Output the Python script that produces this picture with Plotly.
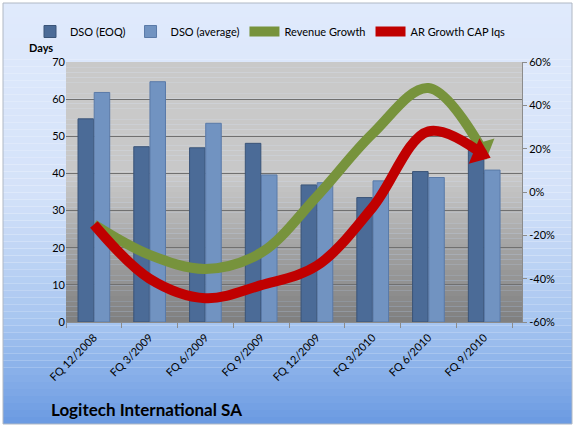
import math
import plotly.graph_objects as go

categories = ["FQ 12/2008", "FQ 3/2009", "FQ 6/2009", "FQ 9/2009",
              "FQ 12/2009", "FQ 3/2010", "FQ 6/2010", "FQ 9/2010"]
dso_eoq = [54.7, 47.2, 46.9, 48.1, 36.9, 33.5, 40.5, 48.1]
dso_avg = [61.8, 64.7, 53.5, 39.6, 37.5, 38.0, 38.9, 40.9]
revenue_growth = [-15, -29, -35.5, -28, -2, 27, 48, 18]   # percent
ar_growth = [-15, -40, -49, -43, -34, -7, 28, 17]          # percent

left_ticks = [0, 10, 20, 30, 40, 50, 60, 70]
right_ticks = [-60, -40, -20, 0, 20, 40, 60]
right_tick_labels = ["-60%", "-40%", "-20%", "0%", "20%", "40%", "60%"]

FONT = "Lato, 'Open Sans', sans-serif"

W, H = 575, 427
L, R, T, B = 66, 53, 62, 105
PW, PH = W - L - R, H - T - B
Y2_RANGE = (-60, 60)


def px_x(p):
    return (p - L) / PW


def px_y(p):
    return (H - B - p) / PH


def lerp_color(stops, t):
    for i in range(len(stops) - 1):
        t0, c0 = stops[i]
        t1, c1 = stops[i + 1]
        if t0 <= t <= t1:
            f = 0 if t1 == t0 else (t - t0) / (t1 - t0)
            c = [int(round(c0[k] + (c1[k] - c0[k]) * f)) for k in range(3)]
            return "rgb(%d,%d,%d)" % tuple(c)
    c = stops[-1][1]
    return "rgb(%d,%d,%d)" % tuple(c)


def end_angle(values, steep=1.0):
    # direction of the last segment on screen, as a rotation of an up-pointing triangle
    dx = PW / len(categories)
    dy = (values[-1] - values[-2]) * PH / (Y2_RANGE[1] - Y2_RANGE[0]) * steep
    return math.degrees(math.atan2(dx, dy))


shapes = []
# outer chart gradient (px 3..572, 3..424)
outer_stops = [(0.0, (224, 234, 252)), (0.45, (212, 226, 249)),
               (0.75, (168, 198, 240)), (1.0, (106, 154, 226))]
n = 60
top_px, bot_px = 3, 424
for i in range(n):
    a = top_px + (bot_px - top_px) * i / n
    b = top_px + (bot_px - top_px) * (i + 1) / n
    shapes.append(dict(type="rect", xref="paper", yref="paper",
                       x0=px_x(3), x1=px_x(572), y0=px_y(b), y1=px_y(a),
                       fillcolor=lerp_color(outer_stops, (i + 0.5) / n),
                       line=dict(width=0), layer="below"))
# frame
shapes.append(dict(type="rect", xref="paper", yref="paper",
                   x0=px_x(3), x1=px_x(572), y0=px_y(424), y1=px_y(3),
                   line=dict(color="#b0b8c4", width=1), layer="below"))
# plot area gradient
plot_stops = [(0.0, (201, 201, 201)), (0.45, (200, 200, 200)),
              (0.7, (165, 165, 165)), (1.0, (127, 127, 127))]
m = 50
for i in range(m):
    y1 = 1 - i / m
    y0 = 1 - (i + 1) / m
    shapes.append(dict(type="rect", xref="paper", yref="paper",
                       x0=0, x1=1, y0=y0, y1=y1,
                       fillcolor=lerp_color(plot_stops, (i + 0.5) / m),
                       line=dict(width=0), layer="below"))

fig = go.Figure()
fig.add_trace(go.Bar(
    x=categories, y=dso_eoq, name="DSO (EOQ)",
    marker=dict(color="#4b6b97", line=dict(color="#3a5478", width=1)),
))
fig.add_trace(go.Bar(
    x=categories, y=dso_avg, name="DSO (average)",
    marker=dict(color="#7193c1", line=dict(color="#5a7aa8", width=1)),
))

for name, vals, col, steep in [("Revenue Growth", revenue_growth, "#77933c", 3.0),
                               ("AR Growth CAP Iqs", ar_growth, "#c00000", 1.0)]:
    fig.add_trace(go.Scatter(
        x=categories, y=vals, name=name, yaxis="y2", mode="lines",
        line=dict(color=col, width=10, shape="spline", smoothing=1.0),
        legendgroup=name,
    ))
    fig.add_trace(go.Scatter(
        x=categories[-1:], y=vals[-1:], yaxis="y2", mode="markers",
        showlegend=False, legendgroup=name, hoverinfo="skip",
        marker=dict(symbol="triangle-up", size=24, color=col, standoff=5,
                    angle=end_angle(vals, steep), line=dict(width=0)),
    ))

fig.update_layout(
    width=W, height=H,
    margin=dict(l=L, r=R, t=T, b=B),
    paper_bgcolor="white",
    plot_bgcolor="rgba(0,0,0,0)",
    font=dict(family=FONT, size=11, color="#000000"),
    barmode="group", bargap=0.42, bargroupgap=0.04,
    shapes=shapes,
    showlegend=True,
    legend=dict(orientation="h", x=px_x(30), y=px_y(17), xanchor="left",
                yanchor="top", bgcolor="rgba(0,0,0,0)",
                font=dict(family=FONT, size=11), itemwidth=30,
                traceorder="normal"),
    xaxis=dict(
        type="category", tickangle=-45, showgrid=False,
        showline=True, linecolor="#8c8c8c", linewidth=1,
        ticks="outside", tickson="boundaries", ticklen=5, tickcolor="#8c8c8c",
        tickfont=dict(family=FONT, size=11), zeroline=False,
        ticklabelstandoff=4,
    ),
    yaxis=dict(
        range=[0, 70], tickvals=left_ticks, showgrid=True,
        gridcolor="#707070", gridwidth=1, zeroline=False, showline=False,
        ticks="", tickfont=dict(family=FONT, size=11),
    ),
    yaxis2=dict(
        range=list(Y2_RANGE), tickvals=right_ticks, ticktext=right_tick_labels,
        overlaying="y", side="right", showgrid=False, zeroline=False,
        showline=True, linecolor="#8c8c8c", linewidth=1,
        ticks="outside", ticklen=4, tickcolor="#8c8c8c",
        tickfont=dict(family=FONT, size=11),
    ),
    annotations=[
        dict(text="<b>Days</b>", xref="paper", yref="paper",
             x=px_x(27), y=px_y(47), xanchor="left", yanchor="middle",
             showarrow=False, font=dict(family=FONT, size=11)),
        dict(text="<b>Logitech International SA</b>", xref="paper", yref="paper",
             x=px_x(49), y=px_y(409), xanchor="left", yanchor="middle",
             showarrow=False, font=dict(family=FONT, size=17)),
    ],
)

fig.write_html("out.html")
